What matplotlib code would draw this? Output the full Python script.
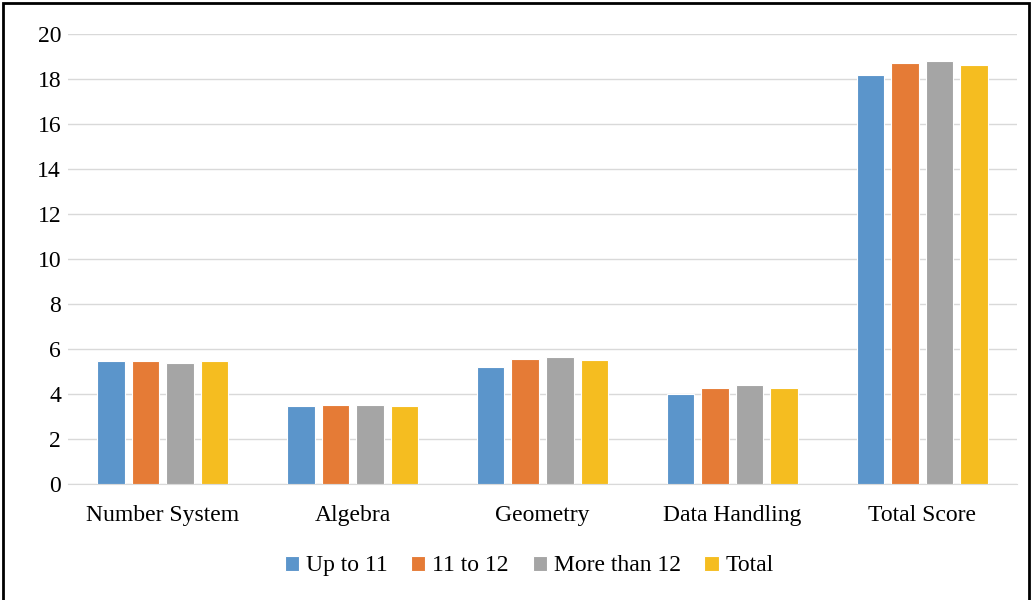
import numpy as np
import matplotlib.pyplot as plt
from matplotlib.patches import Rectangle

categories = ["Number System", "Algebra", "Geometry", "Data Handling", "Total Score"]
series_names = ["Up to 11", "11 to 12", "More than 12", "Total"]
up_to_11 = [5.46, 3.45, 5.22, 4.02, 18.16]
from_11_to_12 = [5.46, 3.51, 5.57, 4.25, 18.71]
more_than_12 = [5.36, 3.51, 5.63, 4.42, 18.82]
total = [5.46, 3.45, 5.52, 4.25, 18.60]
colors = ["#5b95cb", "#e57b36", "#a5a5a5", "#f5bd20"]

plt.rcParams['font.family'] = ['Liberation Serif', 'DejaVu Serif']

fig = plt.figure(figsize=(10.34, 6.0), dpi=100)
ax = fig.add_axes([68 / 1034, 1 - 484 / 600, 949 / 1034, 450 / 600])

x = np.arange(len(categories))
pitch = 0.182
width = 0.145
all_series = [up_to_11, from_11_to_12, more_than_12, total]
for i, (vals, name) in enumerate(zip(all_series, series_names)):
    ax.bar(x + (i - 1.5) * pitch, vals, width, color=colors[i], label=name,
           edgecolor="white", linewidth=0.8, zorder=3)

ax.set_xlim(-0.5, len(categories) - 0.5)
ax.set_ylim(0, 20)
ax.set_yticks(range(0, 21, 2))
ax.set_xticks(x)
ax.set_xticklabels(categories)
ax.grid(axis="y", color="#d9d9d9", linewidth=1, zorder=0)
for s in ["top", "right", "left"]:
    ax.spines[s].set_visible(False)
ax.spines["bottom"].set_color("#d9d9d9")
ax.tick_params(length=0, labelsize=17, colors="black")
ax.tick_params(axis="y", pad=5)
ax.tick_params(axis="x", pad=15)

ax.legend(loc="center", bbox_to_anchor=(0.486, -0.182), ncol=4, frameon=False,
          fontsize=17, handlelength=0.6, handleheight=0.6, handletextpad=0.3,
          columnspacing=1.0)

# border around the picture
fig.patches.append(Rectangle((3 / 1034, -0.05), 1026 / 1034, 1.05 - 3 / 600,
                             transform=fig.transFigure, fill=False,
                             edgecolor="black", linewidth=2))

fig.savefig("out.png", dpi=100)
